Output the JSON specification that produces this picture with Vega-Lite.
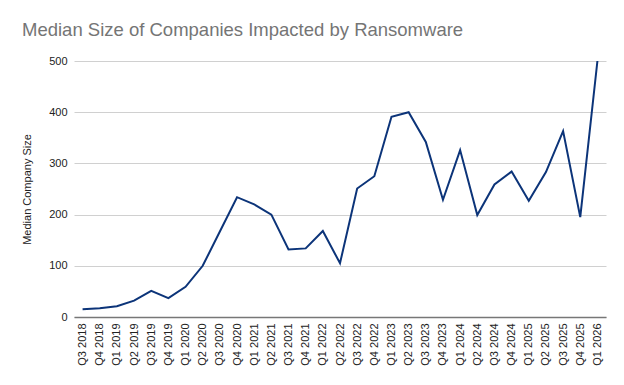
{
  "$schema": "https://vega.github.io/schema/vega-lite/v6.json",
  "autosize": {"type": "none"},
  "width": 532,
  "height": 256,
  "padding": {"left": 74, "top": 61, "right": 18, "bottom": 68},
  "background": "white",
  "title": {
    "text": "Median Size of Companies Impacted by Ransomware",
    "anchor": "start",
    "frame": "group",
    "dx": -52,
    "dy": 24,
    "offset": 25,
    "baseline": "alphabetic",
    "font": "Liberation Sans",
    "fontSize": 18.5,
    "fontWeight": "normal",
    "color": "#757575"
  },
  "data": {
    "values": [
      {"q": "Q3 2018", "v": 15},
      {"q": "Q4 2018", "v": 17},
      {"q": "Q1 2019", "v": 21},
      {"q": "Q2 2019", "v": 32},
      {"q": "Q3 2019", "v": 51},
      {"q": "Q4 2019", "v": 37},
      {"q": "Q1 2020", "v": 59},
      {"q": "Q2 2020", "v": 100},
      {"q": "Q3 2020", "v": 167},
      {"q": "Q4 2020", "v": 234},
      {"q": "Q1 2021", "v": 220},
      {"q": "Q2 2021", "v": 200},
      {"q": "Q3 2021", "v": 132},
      {"q": "Q4 2021", "v": 134},
      {"q": "Q1 2022", "v": 168},
      {"q": "Q2 2022", "v": 105},
      {"q": "Q3 2022", "v": 251},
      {"q": "Q4 2022", "v": 275},
      {"q": "Q1 2023", "v": 391},
      {"q": "Q2 2023", "v": 400},
      {"q": "Q3 2023", "v": 342},
      {"q": "Q4 2023", "v": 229},
      {"q": "Q1 2024", "v": 326},
      {"q": "Q2 2024", "v": 199},
      {"q": "Q3 2024", "v": 259},
      {"q": "Q4 2024", "v": 284},
      {"q": "Q1 2025", "v": 227},
      {"q": "Q2 2025", "v": 283},
      {"q": "Q3 2025", "v": 363},
      {"q": "Q4 2025", "v": 195},
      {"q": "Q1 2026", "v": 500}
    ]
  },
  "mark": {"type": "line", "color": "#0c3479", "strokeWidth": 2, "strokeJoin": "miter"},
  "encoding": {
    "x": {
      "field": "q",
      "type": "ordinal",
      "sort": null,
      "scale": {"type": "point", "padding": 0.5},
      "axis": {
        "title": null,
        "labelAngle": -90,
        "labelAlign": "right",
        "labelBaseline": "middle",
        "labelPadding": 6,
        "labelFont": "Liberation Sans",
        "labelFontSize": 11,
        "labelColor": "#222222",
        "ticks": false,
        "grid": false,
        "domainColor": "#777777",
        "domainWidth": 1.5
      }
    },
    "y": {
      "field": "v",
      "type": "quantitative",
      "scale": {"domain": [0, 500], "nice": false},
      "axis": {
        "title": "Median Company Size",
        "titleFont": "Liberation Sans",
        "titleFontSize": 11,
        "titleFontWeight": "normal",
        "titleColor": "#222222",
        "titlePadding": 16,
        "values": [0, 100, 200, 300, 400, 500],
        "labelFont": "Liberation Sans",
        "labelFontSize": 11,
        "labelColor": "#222222",
        "labelPadding": 7,
        "ticks": false,
        "domain": false,
        "gridColor": "#d0d0d0",
        "gridWidth": 1
      }
    }
  },
  "config": {"view": {"stroke": null}}
}
